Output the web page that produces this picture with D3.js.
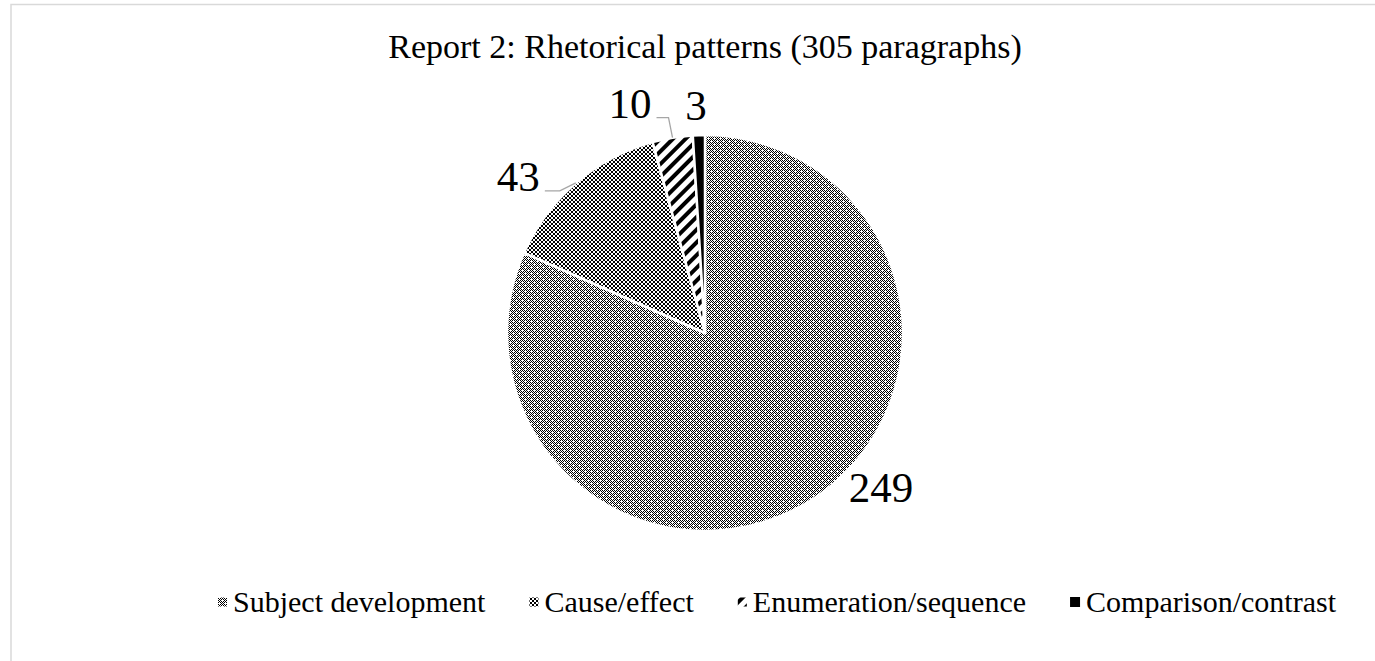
<html>
<script src='https://d3js.org/d3.v7.min.js'></script>
<style>
body {margin:0; background:#fff;}
text {font-family:'Liberation Serif','Times New Roman',serif; fill:#000;}
</style>
<body>
<svg width=1375 height=661></svg>
<script>
var title = "Report 2: Rhetorical patterns (305 paragraphs)";
var categories = ["Subject development", "Cause/effect", "Enumeration/sequence", "Comparison/contrast"];
var counts = [249, 43, 10, 3];
var fills = ["url(#pSubject)", "url(#pCause)", "url(#pEnum)", "#000"];

var svg = d3.select('svg');
var defs = svg.append('defs');

// patterns that mimic the office-style fills
var p1 = defs.append('pattern').attr('id','pSubject').attr('patternUnits','userSpaceOnUse')
  .attr('width',6).attr('height',6);
p1.append('rect').attr('width',6).attr('height',6).attr('fill','#fff');
[[1,3],[2,2],[2,4],[3,1],[3,5],[4,2],[4,4],[5,3],[2,0],[4,0],[0,2],[0,4],[1,1],[1,5],[5,1],[5,5]].forEach(function(c){
  p1.append('rect').attr('x',c[0]).attr('y',c[1]).attr('width',1).attr('height',1).attr('fill','#000');
});

var p2 = defs.append('pattern').attr('id','pCause').attr('patternUnits','userSpaceOnUse')
  .attr('width',4).attr('height',4);
p2.append('rect').attr('width',4).attr('height',4).attr('fill','#fff');
p2.append('rect').attr('width',2).attr('height',2).attr('fill','#000');
p2.append('rect').attr('x',2).attr('y',2).attr('width',2).attr('height',2).attr('fill','#000');

var p3 = defs.append('pattern').attr('id','pEnum').attr('patternUnits','userSpaceOnUse')
  .attr('width',9).attr('height',9).attr('patternTransform','rotate(45)');
p3.append('rect').attr('width',9).attr('height',9).attr('fill','#fff');
p3.append('rect').attr('width',4).attr('height',9).attr('fill','#000');

// chart frame
svg.append('rect').attr('x',11).attr('y',4.5).attr('width',1500).attr('height',800)
  .attr('fill','none').attr('stroke','#d9d9d9').attr('stroke-width',1.5);

svg.append('text').attr('x',705).attr('y',58).attr('text-anchor','middle')
  .style('font-size','34px').text(title);

var cx = 705, cy = 333, r = 198;
var pie = d3.pie().sort(null)(counts);
var arc = d3.arc().innerRadius(0).outerRadius(r);
var g = svg.append('g').attr('transform','translate('+cx+','+cy+')');

g.selectAll('path').data(pie).enter().append('path')
  .attr('d', arc)
  .attr('fill', function(d,i){return fills[i];})
  .attr('stroke','#fff').attr('stroke-width',2.5).attr('stroke-linejoin','round');

function edgePoint(d, rad) {
  var a = (d.startAngle + d.endAngle)/2;
  return [rad*Math.sin(a), -rad*Math.cos(a)];
}

// label placement relative to slice edge (office "best fit")
// [elbow dx, elbow dy, end dx, mode]
var labelShift = [[176,154,0,'out'],[-16,8,-31,'lead'],[-4,-20,-16,'lead'],[-3,-15,0,'none']];
pie.forEach(function(d,i){
  var e = edgePoint(d, r);
  var s = labelShift[i];
  if (s[3]==='out') {
    g.append('text').attr('x',s[0]).attr('y',s[1]+15).attr('text-anchor','middle')
      .style('font-size','43px').text(d.data);
    return;
  }
  if (s[3]==='lead') {
    var ex = e[0]+s[0], ey = e[1]+s[1], endX = e[0]+s[2];
    g.append('path')
      .attr('d','M'+e[0]+','+e[1]+'L'+ex+','+ey+'L'+endX+','+ey)
      .attr('fill','none').attr('stroke','#a6a6a6').attr('stroke-width',1.3);
    g.append('text').attr('x',endX-5).attr('y',ey).attr('text-anchor','end')
      .style('font-size','43px').text(d.data);
    return;
  }
  g.append('text').attr('x',e[0]+s[0]).attr('y',e[1]+s[1]).attr('text-anchor','middle')
    .style('font-size','43px').text(d.data);
});

// legend
var lg = svg.append('g').attr('transform','translate(0,612)');
var x = 218;
categories.forEach(function(c,i){
  var sz = i===3 ? 10 : 9;
  lg.append('rect').attr('x',x).attr('y',-10-sz/2).attr('width',sz).attr('height',sz)
    .attr('fill',fills[i]);
  var t = lg.append('text').attr('x',x+sz+6).attr('y',0).style('font-size','30px').text(c);
  x = x + sz + 6 + t.node().getComputedTextLength() + 44;
});
</script>
</body>
</html>
